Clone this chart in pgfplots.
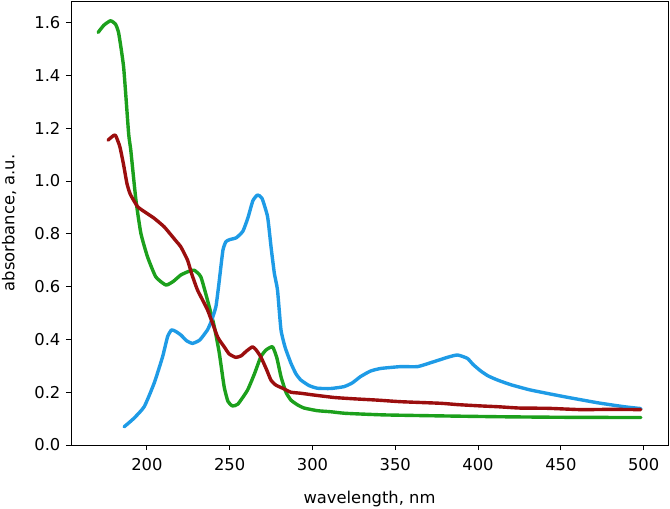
\documentclass[border=0pt]{standalone}
\usepackage{fontspec}
\setmainfont{DejaVu Sans}
\usepackage{pgfplots}
\pgfplotsset{compat=1.18}

\definecolor{cblue}{RGB}{30,155,230}
\definecolor{cgreen}{RGB}{28,160,28}
\definecolor{cred}{RGB}{155,14,14}

\begin{document}
\fontsize{16.4}{19}\selectfont
\begin{tikzpicture}
\begin{axis}[
  width=597bp, height=444bp, scale only axis,
  xmin=154.2, xmax=514.7, ymin=0, ymax=1.682,
  xtick={200,250,...,500},
  ytick={0,0.2,...,1.6},
  yticklabel style={/pgf/number format/.cd, fixed, fixed zerofill, precision=1},
  xticklabel style={yshift=-3bp},
  /pgf/number format/assume math mode=true,
  tick align=outside, xtick pos=left, ytick pos=left,
  major tick length=5bp,
  tick style={black, line width=0.9bp},
  axis line style={black, line width=0.9bp},
  xlabel={wavelength, nm},
  ylabel={absorbance, a.u.},
  xlabel style={yshift=-9bp},
  ylabel style={yshift=7bp},
  every axis plot/.append style={line width=3.4bp, line join=round, line cap=round, smooth, tension=0.3},
]
% green
\addplot[cgreen] coordinates {
(170.6,1.563) (174,1.59) (178,1.607) (181,1.595) (183,1.56) (186,1.43) (189,1.18)
(190.3,1.117) (193.4,0.928) (196.4,0.802) (200.4,0.713) (205.4,0.637) (211.5,0.606)
(216,0.62) (220.5,0.644) (225,0.657) (228.6,0.662) (232.6,0.637) (236.6,0.549)
(240.6,0.452) (243.7,0.35) (246.7,0.22) (249,0.165) (251.7,0.148) (255,0.155)
(260.8,0.208) (265,0.27) (268.8,0.334) (272,0.36) (275.9,0.372) (278.5,0.33)
(281,0.259) (284,0.2) (287,0.17) (291,0.152) (295,0.14) (303,0.13) (311,0.126)
(320,0.12) (343.3,0.114) (380,0.11) (413.8,0.107) (450,0.105) (498.3,0.104)
};
% blue
\addplot[cblue] coordinates {
(186.3,0.069) (192,0.1) (198.4,0.145) (204.4,0.234) (209.5,0.334) (212.5,0.41)
(214.9,0.436) (217.5,0.43) (220.5,0.417) (224,0.395) (227.6,0.385) (232,0.398)
(236.6,0.436) (239,0.47) (241.7,0.524) (243.5,0.61) (244.7,0.675) (246,0.74)
(247.7,0.77) (250,0.778) (254,0.785) (258,0.81) (261,0.86) (264,0.925) (266.8,0.947)
(269.5,0.935) (272.9,0.865) (275,0.75) (277,0.65) (278.9,0.587) (281,0.436)
(283.5,0.37) (287,0.31) (290,0.27) (293,0.246) (298,0.225) (303,0.215) (311,0.214)
(319,0.221) (324,0.235) (329,0.259) (335,0.28) (341.3,0.29) (353.4,0.297)
(363.5,0.297) (373.5,0.316) (382,0.333) (387.6,0.341) (393.6,0.328) (397,0.305)
(401.7,0.28) (406,0.262) (411.8,0.246) (420,0.228) (431.9,0.208) (452,0.183)
(472.2,0.16) (488.2,0.145) (498.3,0.138)
};
% red
\addplot[cred] coordinates {
(176.6,1.155) (179,1.168) (181,1.174) (183.7,1.13) (186,1.06) (188,0.99) (190,0.95)
(194.4,0.903) (199,0.882) (204.4,0.859) (210.4,0.827) (215.5,0.789) (218,0.77)
(220.5,0.751) (224.6,0.7) (227,0.65) (230.6,0.587) (236.7,0.511) (242.7,0.41)
(246.7,0.372) (249.7,0.345) (253.7,0.332) (257,0.338) (260,0.355) (263.8,0.372)
(266,0.36) (268.8,0.334) (272,0.29) (275,0.245) (277.9,0.227) (282,0.215) (287,0.2)
(293,0.196) (300,0.19) (313.1,0.18) (325,0.175) (339.3,0.17) (353.4,0.164)
(377.5,0.158) (387.6,0.153) (401.7,0.148) (412,0.145) (425,0.14) (442,0.139)
(462.1,0.134) (480,0.135) (498.3,0.134)
};
\end{axis}
\pgfresetboundingbox
\useasboundingbox (-71bp,-64bp) rectangle (599bp,445bp);
\end{tikzpicture}
\end{document}
